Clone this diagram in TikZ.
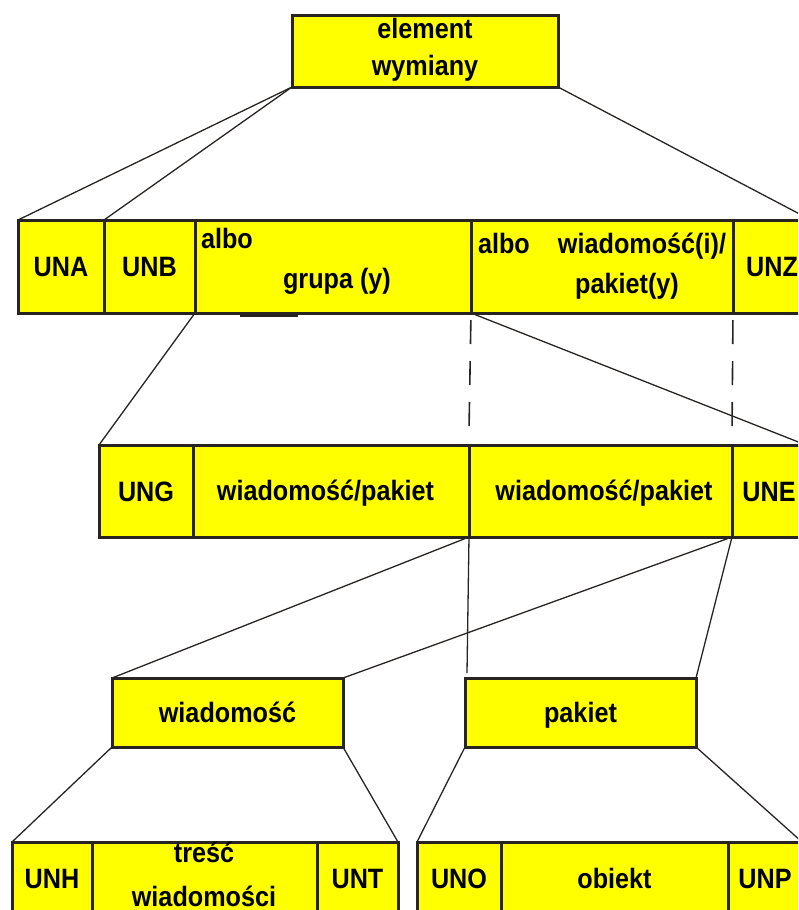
\documentclass[tikz,border=0pt]{standalone}
\usepackage{fontspec}
\setmainfont[FakeStretch=0.9]{Liberation Sans}
\usetikzlibrary{calc}
\definecolor{cellfill}{RGB}{255,255,0}
\definecolor{ink}{RGB}{40,36,34}
\begin{document}
\begin{tikzpicture}[x=1pt,y=-1pt,
  cell/.style={draw=ink, line width=3pt, fill=cellfill, rectangle, inner sep=0pt, outer sep=0pt,
    font=\fontsize{28}{32}\selectfont\bfseries, text height=20pt, text depth=0pt},
  txt/.style={inner sep=0pt, outer sep=0pt, font=\fontsize{28}{32}\selectfont\bfseries,
    text height=20pt, text depth=0pt},
  link/.style={draw=ink, line width=1.3pt},
  guide/.style={draw=ink, line width=1.6pt, dash pattern=on 24pt off 17pt, dash phase=34pt}]
\useasboundingbox (0,0) rectangle (798,910);
\clip (0,0) rectangle (798,910);

% interchange element
\node[cell, minimum width=266pt, minimum height=72pt] (top) at (425,51) {};
\node[txt] (top-a) at (425,28) {element};
\node[txt] (top-b) at (425,65) {wymiany};

% interchange structure
\node[cell, minimum width=86pt, minimum height=93pt] (una) at (61,266.5) {UNA};
\node[cell, minimum width=91pt, minimum height=93pt] (unb) at (149.5,266.5) {UNB};
\node[cell, minimum width=276pt, minimum height=93pt] (grp) at (333,266.5) {};
\node[txt, anchor=west] (grp-albo) at (201,238) {albo};
\node[txt] (grp-name) at (337,278) {grupa (y)};
\node[cell, minimum width=262pt, minimum height=93pt] (msg) at (602,266.5) {};
\node[txt, anchor=west] (msg-albo) at (478,243) {albo};
\node[txt] (msg-a) at (642,243) {wiadomość(i)/};
\node[txt] (msg-b) at (627,283) {pakiet(y)};
\node[cell, minimum width=78pt, minimum height=93pt] (unz) at (772,266.5) {UNZ};

% functional group
\node[cell, minimum width=94pt, minimum height=92pt] (ung) at (146,491) {UNG};
\node[cell, minimum width=276pt, minimum height=92pt] (wp1) at (331,491) {};
\node[txt] (wp1-t) at (325.5,490) {wiadomość/pakiet};
\node[cell, minimum width=263pt, minimum height=92pt] (wp2) at (600.5,491) {};
\node[txt] (wp2-t) at (604,490) {wiadomość/pakiet};
\node[cell, minimum width=74pt, minimum height=92pt] (une) at (769,491) {UNE};

% message and package
\node[cell, minimum width=231pt, minimum height=69pt] (wiad) at (227.5,712.5) {wiadomość};
\node[cell, minimum width=231pt, minimum height=69pt] (pak) at (580.5,712.5) {pakiet};

% message contents
\node[cell, minimum width=80pt, minimum height=73pt] (unh) at (52,878.5) {UNH};
\node[cell, minimum width=225pt, minimum height=73pt] (body) at (204.5,878.5) {};
\node[txt] (body-a) at (204,852) {treść};
\node[txt] (body-b) at (204,896) {wiadomości};
\node[cell, minimum width=81pt, minimum height=73pt] (unt) at (357.5,878.5) {UNT};

% package contents
\node[cell, minimum width=84pt, minimum height=73pt] (uno) at (459,878.5) {UNO};
\node[cell, minimum width=227pt, minimum height=73pt] (obj) at (614.5,878.5) {obiekt};
\node[cell, minimum width=74pt, minimum height=73pt] (unp) at (765,878.5) {UNP};

% short dark bar under the group cell
\draw[ink, line width=4pt] ($(grp.south west)+(45,2)$) -- ++(58,0);

% expansion lines
\draw[link] (top.south west) -- (una.north west);
\draw[link] (top.south west) -- (unb.north west);
\draw[link] (top.south east) -- (unz.north east);
\draw[link] (grp.south west) -- (ung.north west);
\draw[link] (msg.south west) -- (une.north east);
\draw[guide] (msg.south west) -- ($(wp2.north west)+(0,-15)$);
\draw[guide] (msg.south east) -- ($(wp2.north east)+(0,-12)$);
\draw[link] (wp2.south west) -- (wiad.north west);
\draw[link] (une.south west) -- (wiad.north east);
\draw[link] (wp2.south west) -- ($(pak.north west)+(2,-5)$);
\draw[link] (une.south west) -- (pak.north east);
\draw[link] (wiad.south west) -- (unh.north west);
\draw[link] (wiad.south east) -- (unt.north east);
\draw[link] (pak.south west) -- (uno.north west);
\draw[link] (pak.south east) -- (unp.north east);
\end{tikzpicture}
\end{document}
